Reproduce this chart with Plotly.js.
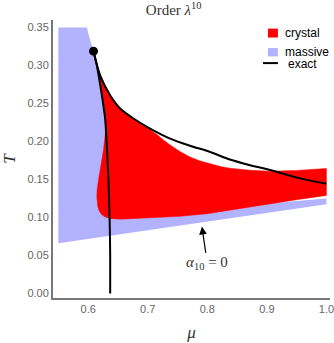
<!DOCTYPE html>
<html><head><meta charset="utf-8">
<script src="https://cdn.plot.ly/plotly-3.0.1.min.js"></script>
<style>html,body{margin:0;padding:0;background:#fff}#plot{width:334px;height:343px}</style>
</head><body><div id="plot"></div>
<script>
// massive region boundary (mu, T)
const massiveMu = [0.550, 0.598, 0.601, 0.605, 0.609, 0.620, 0.628, 0.631, 0.640, 0.700, 0.850, 1.000, 1.000, 0.550];
const massiveT  = [0.350, 0.350, 0.340, 0.330, 0.319, 0.290, 0.250, 0.200, 0.130, 0.115, 0.115, 0.125, 0.1175, 0.066];
// crystal region boundary (mu, T)
const crystalMu = [0.609, 0.6201, 0.6369, 0.6537, 0.676, 0.695, 0.705, 0.715, 0.726, 0.7376, 0.754, 0.771, 0.788, 0.805, 0.822, 0.838, 0.855, 0.872, 0.905, 0.950, 1.000,
                   1.000, 0.950, 0.900, 0.838, 0.800, 0.754, 0.700, 0.654, 0.637, 0.629, 0.623, 0.619, 0.6162, 0.6146, 0.615, 0.6162, 0.618, 0.620, 0.6257, 0.6295, 0.6285, 0.623, 0.6146];
const crystalT  = [0.319, 0.2872, 0.2609, 0.2434, 0.2303, 0.2205, 0.2155, 0.2095, 0.2025, 0.1955, 0.187, 0.1795, 0.1745, 0.1705, 0.1672, 0.1648, 0.1632, 0.1622, 0.161, 0.162, 0.1645,
                   0.129, 0.1235, 0.117, 0.1096, 0.105, 0.1015, 0.0990, 0.0978, 0.0988, 0.1005, 0.1035, 0.108, 0.114, 0.127, 0.136, 0.1447, 0.153, 0.162, 0.1886, 0.215, 0.230, 0.261, 0.300];
// exact: upper curve
const exactUpperMu = [0.609, 0.6201, 0.6369, 0.6537, 0.676, 0.704, 0.7376, 0.771, 0.8047, 0.838, 0.872, 0.9054, 0.956, 1.000];
const exactUpperT  = [0.319, 0.2872, 0.2609, 0.2434, 0.2303, 0.2171, 0.2039, 0.1945, 0.1863, 0.1763, 0.1688, 0.1625, 0.1515, 0.1445];
// exact: near-vertical curve
const exactLowerMu = [0.609, 0.6146, 0.623, 0.6285, 0.631, 0.634, 0.636, 0.637, 0.637];
const exactLowerT  = [0.319, 0.300, 0.261, 0.230, 0.200, 0.150, 0.100, 0.050, 0.000];
// critical point
const pointMu = [0.609];
const pointT = [0.319];
const xTicks = [0.6, 0.7, 0.8, 0.9, 1.0];
const yTicks = [0.00, 0.05, 0.10, 0.15, 0.20, 0.25, 0.30, 0.35];

const blue = 'rgb(178,178,255)';
const red = 'rgb(255,0,0)';

const traces = [
  {x: massiveMu, y: massiveT, type: 'scatter', mode: 'lines', fill: 'toself', fillcolor: blue, line: {width: 0, color: blue}, name: 'massive', hoverinfo: 'skip'},
  {x: crystalMu, y: crystalT, type: 'scatter', mode: 'lines', fill: 'toself', fillcolor: red, line: {width: 0.5, color: red}, name: 'crystal', hoverinfo: 'skip'},
  {x: exactUpperMu, y: exactUpperT, type: 'scatter', mode: 'lines', line: {color: '#000', width: 2, shape: 'spline', smoothing: 0.8}, name: 'exact'},
  {x: exactLowerMu, y: exactLowerT, type: 'scatter', mode: 'lines', line: {color: '#000', width: 2, shape: 'spline', smoothing: 0.8}, name: 'exact2'},
  {x: pointMu, y: pointT, type: 'scatter', mode: 'markers', marker: {color: '#000', size: 9}, name: 'point'}
];

const legFont = {family: 'Liberation Sans, Arial, sans-serif', size: 12, color: '#000'};
const layout = {
  width: 334, height: 343,
  margin: {l: 53, r: 4, t: 20, b: 45},
  paper_bgcolor: '#fff', plot_bgcolor: '#fff',
  showlegend: false,
  title: {text: 'Order <i>λ</i><sup>10</sup>', x: 0.52, xanchor: 'center', y: 0.972, yanchor: 'middle',
          font: {family: 'Liberation Serif, serif', size: 15, color: '#333'}},
  xaxis: {range: [0.541, 1.006], tickvals: xTicks, ticktext: xTicks.map(v => v.toFixed(1)), ticklabeloverflow: 'allow',
          showgrid: false, zeroline: false, showline: true, linecolor: '#777', linewidth: 2, ticks: '',
          tickfont: {family: 'Liberation Sans, Arial, sans-serif', size: 11, color: '#666'},
          title: {text: '<i>μ</i>', font: {family: 'Liberation Serif, serif', size: 17, color: '#333'}, standoff: 12}},
  yaxis: {range: [-0.006, 0.36], tickvals: yTicks, ticktext: yTicks.map(v => v.toFixed(2)),
          showgrid: false, zeroline: false, showline: true, linecolor: '#777', linewidth: 2, ticks: '',
          tickfont: {family: 'Liberation Sans, Arial, sans-serif', size: 11, color: '#666'},
          title: {text: '<i>T</i>', font: {family: 'Liberation Serif, serif', size: 17, color: '#333'}, standoff: 10}},
  shapes: [
    {type: 'rect', xref: 'paper', yref: 'paper', x0: 0.776, x1: 0.812, y0: 0.937, y1: 0.969, fillcolor: red, line: {width: 0}},
    {type: 'rect', xref: 'paper', yref: 'paper', x0: 0.776, x1: 0.812, y0: 0.869, y1: 0.899, fillcolor: blue, line: {width: 0}},
    {type: 'line', xref: 'paper', yref: 'paper', x0: 0.758, x1: 0.812, y0: 0.845, y1: 0.845, line: {color: '#000', width: 2}}
  ],
  annotations: [
    {xref: 'paper', yref: 'paper', x: 0.830, y: 0.953, xanchor: 'left', yanchor: 'middle', text: 'crystal', showarrow: false, font: legFont},
    {xref: 'paper', yref: 'paper', x: 0.830, y: 0.886, xanchor: 'left', yanchor: 'middle', text: 'massive', showarrow: false, font: legFont},
    {xref: 'paper', yref: 'paper', x: 0.842, y: 0.843, xanchor: 'left', yanchor: 'middle', text: 'exact', showarrow: false, font: legFont},
    {x: 0.791, y: 0.088, xref: 'x', yref: 'y', ax: 0.800, ay: 0.0395, axref: 'x', ayref: 'y',
     text: '<i>α</i><sub>10</sub> = 0', showarrow: true, arrowhead: 2, arrowsize: 1.3, arrowwidth: 1.2, arrowcolor: '#000',
     font: {family: 'Liberation Serif, serif', size: 15, color: '#333'}}
  ]
};
Plotly.newPlot('plot', traces, layout, {displayModeBar: false, staticPlot: true});
</script></body></html>
